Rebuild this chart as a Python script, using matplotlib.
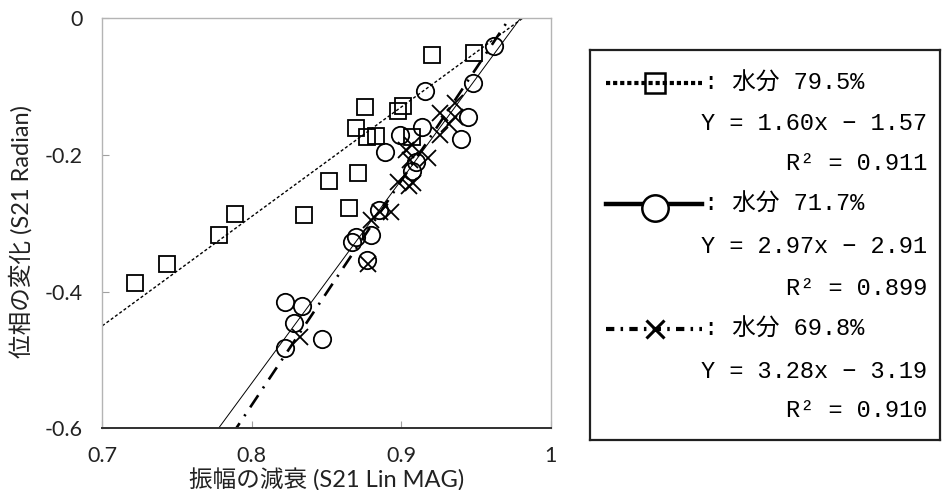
import numpy as np
import matplotlib.pyplot as plt
from matplotlib.lines import Line2D

plt.rcParams['axes.unicode_minus'] = False

# 水分 79.5%
sq_x = [0.722, 0.743, 0.778, 0.789, 0.835, 0.852, 0.865, 0.871, 0.870, 0.876,
        0.877, 0.883, 0.898, 0.901, 0.907, 0.921, 0.949]
sq_y = [-0.387, -0.360, -0.317, -0.287, -0.288, -0.238, -0.278, -0.227, -0.161, -0.130,
        -0.173, -0.172, -0.136, -0.128, -0.173, -0.053, -0.051]

# 水分 71.7%
ci_x = [0.962, 0.948, 0.916, 0.945, 0.940, 0.914, 0.899, 0.889, 0.910, 0.907,
        0.885, 0.880, 0.870, 0.867, 0.877, 0.822, 0.834, 0.828, 0.847, 0.822]
ci_y = [-0.041, -0.094, -0.106, -0.144, -0.176, -0.159, -0.171, -0.195, -0.210, -0.224,
        -0.281, -0.317, -0.320, -0.327, -0.354, -0.415, -0.421, -0.446, -0.470, -0.483]

# 水分 69.8%
cr_x = [0.926, 0.936, 0.936, 0.932, 0.926, 0.907, 0.903, 0.918, 0.906, 0.898,
        0.905, 0.908, 0.893, 0.886, 0.880, 0.878, 0.832]
cr_y = [-0.139, -0.124, -0.144, -0.154, -0.171, -0.185, -0.193, -0.205, -0.207, -0.239,
        -0.246, -0.241, -0.283, -0.284, -0.295, -0.359, -0.466]

# 近似直線 Y = a x + b
slopes = [1.60, 2.97, 3.28]
icepts = [-1.57, -2.91, -3.19]
r2 = [0.911, 0.899, 0.910]
moist = ['79.5%', '71.7%', '69.8%']

xticks = [0.7, 0.8, 0.9, 1.0]
xticklabels = ['0.7', '0.8', '0.9', '1']
yticks = [0, -0.2, -0.4, -0.6]
yticklabels = ['0', '-0.2', '-0.4', '-0.6']

jp = ['Lato', 'Noto Sans CJK JP']
leg_font = ['Liberation Mono', 'Noto Sans CJK JP']

fig = plt.figure(figsize=(9.42, 4.9), dpi=100)
ax = fig.add_axes([0.1086, 0.1259, 0.4758, 0.8367])

xx = np.linspace(0.7, 1.0, 200)
styles = [
    dict(ls=(0, (2.2, 1.6)), lw=1.0),
    dict(ls='-', lw=0.7),
    dict(ls=(0, (5.5, 3.2, 0.8, 3.2)), lw=1.9),
]
for a, b, st in zip(slopes, icepts, styles):
    ax.plot(xx, a * xx + b, color='black', **st)

mk = dict(ls='none', mfc='none', mec='black', mew=1.3)
ax.plot(sq_x, sq_y, marker='s', ms=12, **mk)
ax.plot(ci_x, ci_y, marker='o', ms=12.5, **mk)
ax.plot(cr_x, cr_y, marker='x', ms=11.5, **mk)

ax.set_xlim(0.7, 1.0)
ax.set_ylim(-0.6, 0)
ax.set_xticks(xticks)
ax.set_xticklabels(xticklabels)
ax.set_yticks(yticks)
ax.set_yticklabels(yticklabels)
ax.tick_params(direction='in', length=5, width=0.8, color='#a0a0a0', labelsize=15.5,
               labelcolor='#222222')
ax.tick_params(axis='x', pad=13)
ax.tick_params(axis='y', pad=14)
for lab in ax.get_xticklabels() + ax.get_yticklabels():
    lab.set_family(jp)

for side in ['left', 'top', 'right']:
    ax.spines[side].set_color('#b4b4b4')
    ax.spines[side].set_linewidth(1.0)
ax.spines['bottom'].set_color('#303030')
ax.spines['bottom'].set_linewidth(1.4)

ax.set_xlabel('振幅の減衰 (S21 Lin MAG)', fontsize=17, family=jp, color='#222222')
ax.xaxis.set_label_coords(0.5, -0.126)
ax.xaxis.label.set_va('center')
ax.set_ylabel('位相の変化 (S21 Radian)', fontsize=17, family=jp, color='#222222')
ax.yaxis.set_label_coords(-0.181, 0.48)
ax.yaxis.label.set_va('center')

# 凡例の枠 (ピクセル座標で配置)
lg = fig.add_axes([590 / 942, 50 / 490, 350 / 942, 390 / 490])
lg.set_xlim(590, 940)
lg.set_ylim(440, 50)
lg.set_xticks([])
lg.set_yticks([])
for s in lg.spines.values():
    s.set_linewidth(1.6)
    s.set_color('#202020')

row_y = [83, 123, 163, 204, 246, 288, 329, 371, 410]
samples = [
    dict(ls=(0, (1.0, 0.7)), lw=3.0, marker='s', ms=15, mfc='none', mew=1.8),
    dict(ls='-', lw=3.2, marker='o', ms=19, mfc='white', mew=1.8),
    dict(ls=(0, (2.0, 1.5, 0.6, 1.5)), lw=3.0, marker='x', ms=13, mew=2.2),
]
for i in range(3):
    y0 = row_y[3 * i]
    st = samples[i]
    lg.add_line(Line2D([606, 702], [y0, y0], color='black', ls=st['ls'], lw=st['lw']))
    lg.plot([655], [y0 + (4 if i == 1 else 0)], color='black', ls='none',
            marker=st['marker'], ms=st['ms'],
            mfc=st.get('mfc', 'black'), mec='black', mew=st['mew'])
    lg.text(704, y0, ': 水分 ' + moist[i], family=leg_font, fontsize=17, va='center', ha='left')
    lg.text(927, row_y[3 * i + 1], 'Y = %.2fx − %.2f' % (slopes[i], -icepts[i]),
            family=leg_font, fontsize=17, va='center', ha='right')
    lg.text(927, row_y[3 * i + 2], 'R² = %.3f' % r2[i],
            family=leg_font, fontsize=17, va='center', ha='right')

fig.savefig('out.png', dpi=100)
